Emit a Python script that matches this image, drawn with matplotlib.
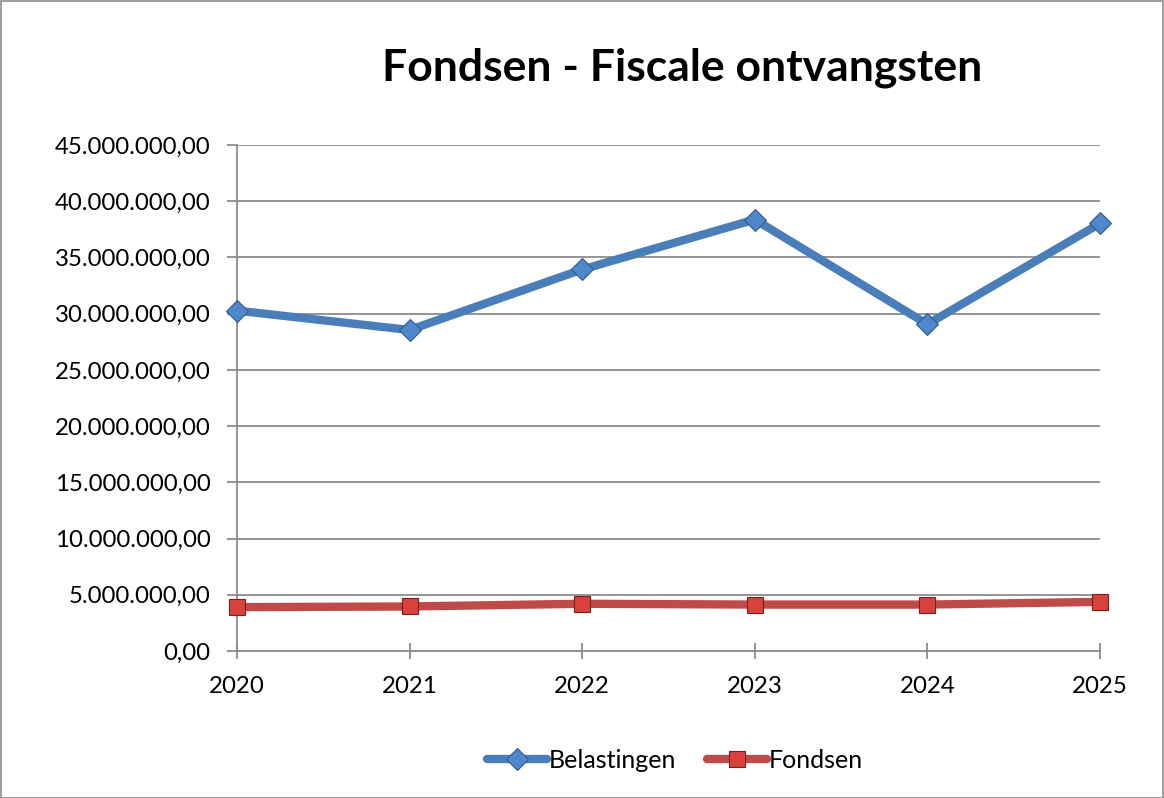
import matplotlib
matplotlib.use("Agg")
import matplotlib.pyplot as plt
from matplotlib.ticker import FuncFormatter
from matplotlib.patches import Rectangle

years = ["2020", "2021", "2022", "2023", "2024", "2025"]
belastingen = [30270000, 28550000, 33930000, 38370000, 29060000, 38020000]
fondsen = [3900000, 3960000, 4200000, 4130000, 4130000, 4370000]
yticks = list(range(0, 45000001, 5000000))

plt.rcParams['font.family'] = ['Lato', 'DejaVu Sans']

fig = plt.figure(figsize=(11.64, 7.98), dpi=100)
W, H = 1164, 798
ax = fig.add_axes([237 / W, 1 - 651 / H, (1100 - 237) / W, (651 - 145) / H])

x = list(range(len(years)))
ax.plot(x, belastingen, color='#4a7ebb', lw=6, marker='D', markersize=11,
        markerfacecolor='#4f87cc', markeredgecolor='#2f5b8f', markeredgewidth=0.8,
        label='Belastingen', solid_capstyle='round', zorder=3)
ax.plot(x, fondsen, color='#be4b48', lw=6, marker='s', markersize=12,
        markerfacecolor='#d9413c', markeredgecolor='#7a1f1d', markeredgewidth=0.8,
        label='Fondsen', solid_capstyle='round', zorder=3)

ax.set_xlim(0, len(years) - 1)
ax.set_ylim(0, 45000000)
ax.set_yticks(yticks)
ax.set_xticks(x)
ax.set_xticklabels(years)

def fmt(v, pos):
    s = f"{int(round(v)):,}".replace(",", ".")
    return s + ",00"
ax.yaxis.set_major_formatter(FuncFormatter(fmt))

ax.grid(axis='y', color='#8c8c8c', lw=1.3)
ax.set_axisbelow(True)
for s in ['top', 'right']:
    ax.spines[s].set_visible(False)
for s in ['left', 'bottom']:
    ax.spines[s].set_color('#8c8c8c')
    ax.spines[s].set_linewidth(1.3)
ax.tick_params(axis='y', length=7, color='#8c8c8c', width=1.3, labelsize=17.3, pad=12)
ax.tick_params(axis='x', length=12, color='#8c8c8c', width=1.3, labelsize=17.3, pad=12,
               direction='inout')
for lab in ax.get_xticklabels() + ax.get_yticklabels():
    lab.set_clip_on(False)
for ln in ax.lines:
    ln.set_clip_on(False)

fig.text(682 / W, 1 - 68 / H, "Fondsen - Fiscale ontvangsten", ha='center', va='center',
         fontsize=32, fontweight='bold')

leg = fig.legend(loc='center', bbox_to_anchor=(675 / W, 1 - 760 / H), ncol=2,
                 frameon=False, fontsize=18, handlelength=2.4, columnspacing=1.25,
                 handletextpad=0.05)

fig.patches.append(Rectangle((0.5 / W, 0.5 / H), 1 - 1.5 / W, 1 - 1.5 / H,
                             transform=fig.transFigure, fill=False,
                             edgecolor='#8c8c8c', lw=1.2))

fig.savefig("out.png", dpi=100, facecolor='white')
